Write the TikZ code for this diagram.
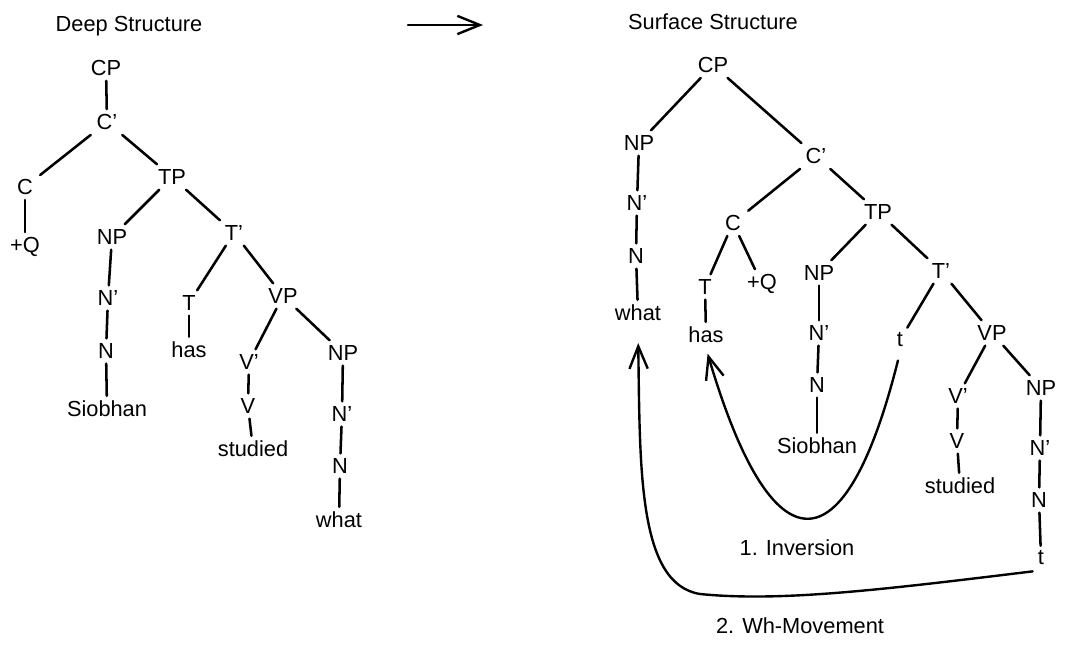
\documentclass[tikz,border=0pt]{standalone}
\usepackage{fontspec}
\setmainfont{Liberation Sans}
\usetikzlibrary{arrows.meta}
\tikzset{
	cat/.style={font=\fontsize{15.5pt}{18pt}\selectfont, inner xsep=5pt, inner ysep=3.5pt},
	branch/.style={line width=1.8pt, line cap=round},
	movearrow/.style={line width=1.7pt, line cap=round, -{Straight Barb[length=16pt,width=13pt,line width=1.7pt]}},
}

\begin{document}
\begin{tikzpicture}[x=0.025cm, y=-0.025cm]
		%%%%% START %%%%%
		\useasboundingbox (0, 0) rectangle (1067, 650);
		
		\node[cat] (ldeep) at (129, 26) {Deep Structure};
		\node[cat] (rsurf) at (713, 22) {Surface Structure};
		\coordinate (arrfrom) at (408, 25);
		\coordinate (arrto) at (483, 25);
		\draw[movearrow] (arrfrom) -- (arrto);
		
		%% deep structure tree
		\node[cat] (lcp) at (106, 68) {CP};
		\node[cat] (lcb) at (107, 122) {C'};
		\node[cat] (lc) at (25, 187) {C};
		\node[cat] (lq) at (25, 247) {+Q};
		\node[cat] (ltp) at (172, 177) {TP};
		\node[cat] (lnp) at (112, 237) {NP};
		\node[cat] (lnb) at (108, 298) {N'};
		\node[cat] (ln) at (106, 351) {N};
		\node[cat] (lsio) at (107, 409) {Siobhan};
		\node[cat] (ltb) at (234, 233) {T'};
		\node[cat] (lt) at (189, 303) {T};
		\node[cat] (lhas) at (189, 350) {has};
		\node[cat] (lvp) at (283, 296) {VP};
		\node[cat] (lvb) at (249, 362) {V'};
		\node[cat] (lv) at (248, 406) {V};
		\node[cat] (lstu) at (253, 449) {studied};
		\node[cat] (lnpo) at (343, 353) {NP};
		\node[cat] (lnbo) at (342, 414) {N'};
		\node[cat] (lno) at (340, 466) {N};
		\node[cat] (lwhat) at (339, 520) {what};
		
		\draw[branch] (lcp) -- (lcb);
		\draw[branch] (lcb) -- (lc);
		\draw[branch] (lcb) -- (ltp);
		\draw[branch] (lc) -- (lq);
		\draw[branch] (ltp) -- (lnp);
		\draw[branch] (ltp) -- (ltb);
		\draw[branch] (lnp) -- (lnb);
		\draw[branch] (lnb) -- (ln);
		\draw[branch] (ln) -- (lsio);
		\draw[branch] (ltb) -- (lt);
		\draw[branch] (ltb) -- (lvp);
		\draw[branch] (lt) -- (lhas);
		\draw[branch] (lvp) -- (lvb);
		\draw[branch] (lvp) -- (lnpo);
		\draw[branch] (lvb) -- (lv);
		\draw[branch] (lv) -- (lstu);
		\draw[branch] (lnpo) -- (lnbo);
		\draw[branch] (lnbo) -- (lno);
		\draw[branch] (lno) -- (lwhat);
		
		%% surface structure tree
		\node[cat] (rcp) at (713, 65) {CP};
		\node[cat] (rnpw) at (639, 143) {NP};
		\node[cat] (rnbw) at (637, 203) {N'};
		\node[cat] (rnw) at (636, 256) {N};
		\node[cat] (rwhat) at (638, 313) {what};
		\node[cat] (rcb) at (816, 156) {C'};
		\node[cat] (rc) at (733, 223) {C};
		\node[cat] (rt) at (705, 287) {T};
		\node[cat] (rhas) at (706, 335) {has};
		\node[cat] (rq) at (762, 284) {+Q};
		\node[cat] (rtp) at (878, 212) {TP};
		\node[cat] (rnp) at (819, 273) {NP};
		\node[cat] (rnb) at (819, 333) {N'};
		\node[cat] (rn) at (817, 385) {N};
		\node[cat] (rsio) at (817, 446) {Siobhan};
		\node[cat] (rtb) at (941, 271) {T'};
		\node[cat] (rtrace) at (900, 340) {t};
		\node[cat] (rvp) at (992, 333) {VP};
		\node[cat] (rvb) at (958, 396) {V'};
		\node[cat] (rv) at (957, 441) {V};
		\node[cat] (rstu) at (960, 486) {studied};
		\node[cat] (rnpo) at (1041, 388) {NP};
		\node[cat] (rnbo) at (1040, 448) {N'};
		\node[cat] (rno) at (1039, 500) {N};
		\node[cat] (rtraceo) at (1041, 558) {t};
		
		\draw[branch] (rcp) -- (rnpw);
		\draw[branch] (rcp) -- (rcb);
		\draw[branch] (rnpw) -- (rnbw);
		\draw[branch] (rnbw) -- (rnw);
		\draw[branch] (rnw) -- (rwhat);
		\draw[branch] (rcb) -- (rc);
		\draw[branch] (rcb) -- (rtp);
		\draw[branch] (rc) -- (rt);
		\draw[branch] (rc) -- (rq);
		\draw[branch] (rt) -- (rhas);
		\draw[branch] (rtp) -- (rnp);
		\draw[branch] (rtp) -- (rtb);
		\draw[branch] (rnp) -- (rnb);
		\draw[branch] (rnb) -- (rn);
		\draw[branch] (rn) -- (rsio);
		\draw[branch] (rtb) -- (rtrace);
		\draw[branch] (rtb) -- (rvp);
		\draw[branch] (rvp) -- (rvb);
		\draw[branch] (rvp) -- (rnpo);
		\draw[branch] (rvb) -- (rv);
		\draw[branch] (rv) -- (rstu);
		\draw[branch] (rnpo) -- (rnbo);
		\draw[branch] (rnbo) -- (rno);
		\draw[branch] (rno) -- (rtraceo);
		
		%% movements
		\draw[movearrow, shorten <=6pt, shorten >=4pt] (rtrace.south) .. controls (845, 572) and (772, 572) .. (rhas.south);
		\node[cat] (inv) at (797, 548) {1. Inversion};
		
		\draw[movearrow, shorten <=6pt, shorten >=12pt] (rtraceo.south) .. controls (880, 590) and (780, 602) .. (700, 594) .. controls (638, 584) and (640, 470) .. (rwhat.south);
		\node[cat] (whmov) at (800, 626) {2. Wh-Movement};
		
		%%%%% END %%%%%
	\end{tikzpicture}
\end{document}
